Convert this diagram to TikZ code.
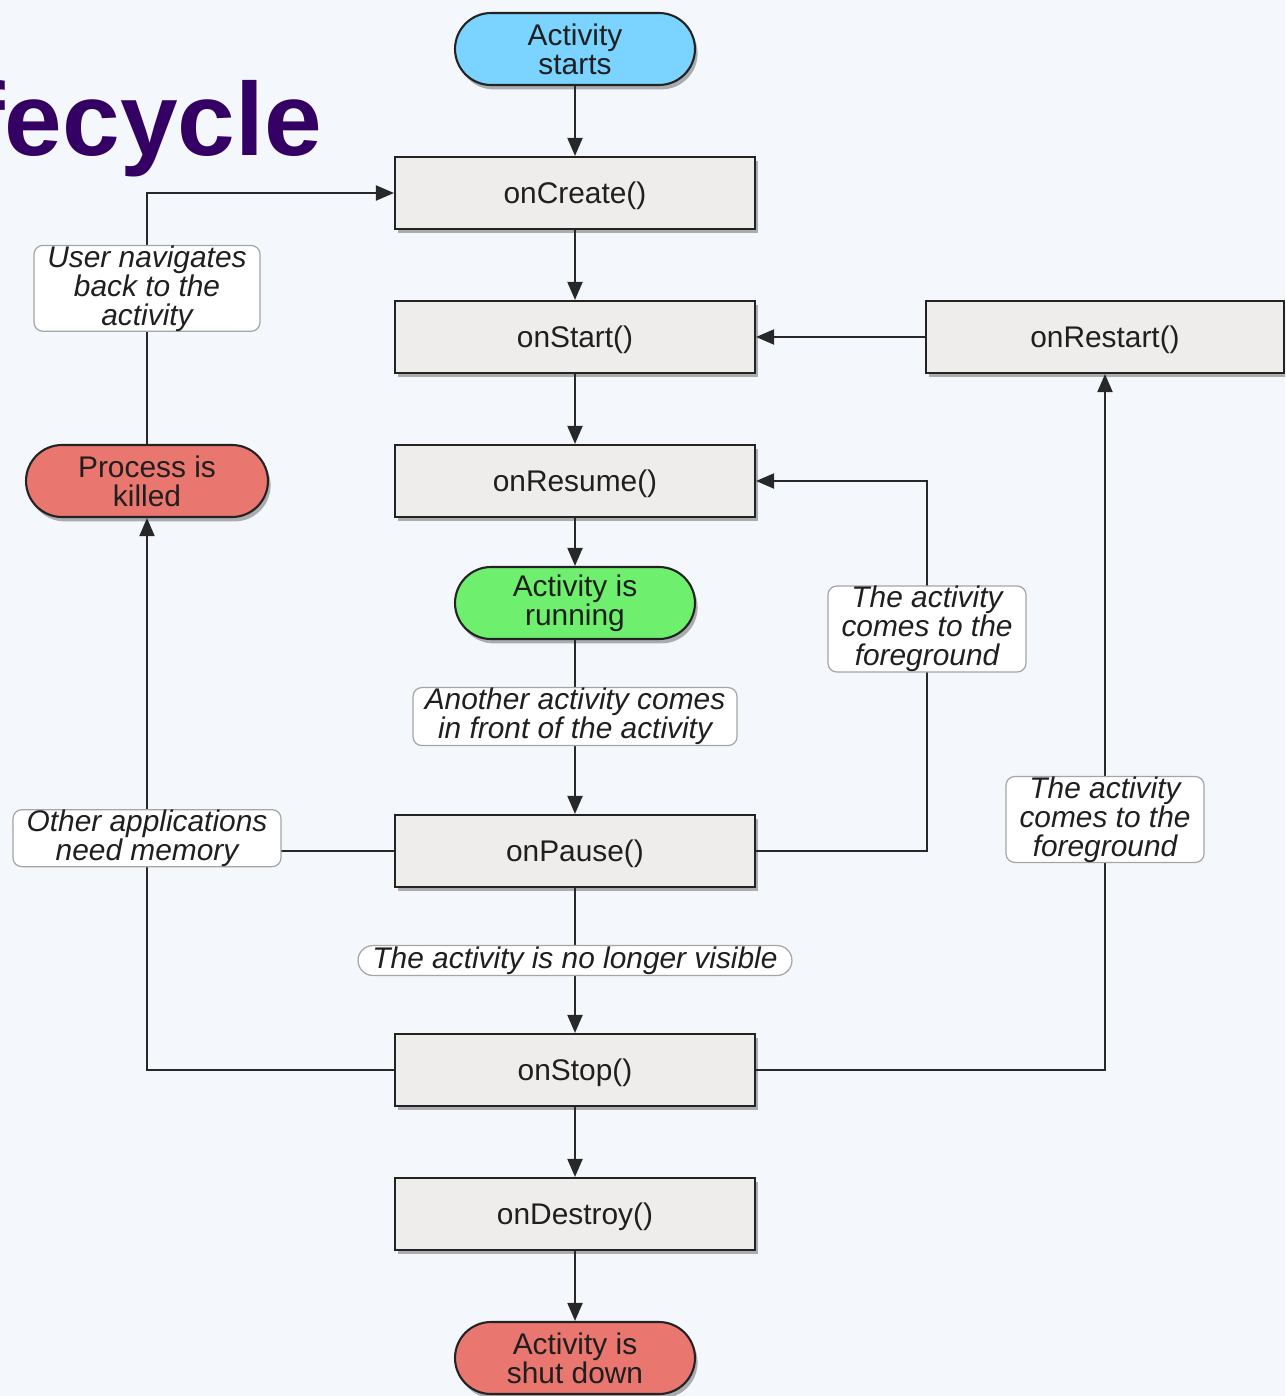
\documentclass[tikz,border=0pt]{standalone}
\usepackage{fontspec}
\setmainfont{Liberation Sans}
\usetikzlibrary{arrows.meta,shapes.misc,shadows}

\definecolor{bgcol}{RGB}{244,247,252}
\definecolor{titlepurple}{RGB}{52,0,100}
\definecolor{boxfill}{RGB}{238,237,235}
\definecolor{boxline}{RGB}{35,35,35}
\definecolor{linecol}{RGB}{40,40,40}
\definecolor{notegray}{RGB}{165,165,165}
\definecolor{startblue}{RGB}{122,212,255}
\definecolor{rungreen}{RGB}{110,240,110}
\definecolor{killred}{RGB}{234,118,112}

\begin{document}
\begin{tikzpicture}[%
    x = 0.02cm, y = -0.02cm,
    every node/.style = {inner sep=0pt, text=black!88, font=\fontsize{17}{16.5}\selectfont},
    boxshadow/.style = {drop shadow={shadow xshift=1.5pt, shadow yshift=-2.5pt, opacity=.3, fill=black}},
    callback/.style = {rectangle, draw=boxline, line width=1.2pt, fill=boxfill, text height=12.2pt, text depth=0pt,
                       minimum width=7.2cm, minimum height=1.44cm, boxshadow},
    state/.style = {rounded rectangle, draw=boxline, line width=1.2pt, align=center,
                    minimum width=4.8cm, minimum height=1.44cm, boxshadow},
    note/.style = {rectangle, rounded corners=5pt, draw=notegray, line width=0.7pt, fill=white,
                   align=center, font=\fontsize{17}{16.5}\selectfont\itshape},
    pillnote/.style = {rounded rectangle, draw=notegray, line width=0.7pt, fill=white,
                       align=center, font=\fontsize{17}{16.5}\selectfont\itshape},
    flow/.style = {draw=linecol, line width=1.1pt, -{Triangle[length=3.6mm, width=3mm]}},
    link/.style = {draw=linecol, line width=1.1pt}%
  ]
    \useasboundingbox (0,0) rectangle (1285,1396);
    \clip (0,0) rectangle (1285,1396);
    \fill[bgcol] (0,0) rectangle (1285,1396);

    \node[anchor=base west, text=titlepurple, font=\fontsize{59}{60}\selectfont\bfseries] (title) at (-30,155) {fecycle};

    % middle column
    \node[state, fill=startblue] (starts) at (575,49) {Activity\\starts};
    \node[callback] (create) at (575,193) {onCreate()};
    \node[callback] (start) at (575,337) {onStart()};
    \node[callback] (resume) at (575,481) {onResume()};
    \node[state, fill=rungreen] (running) at (575,603) {Activity is\\running};
    \node[callback] (pause) at (575,851) {onPause()};
    \node[callback] (stop) at (575,1070) {onStop()};
    \node[callback] (destroy) at (575,1214) {onDestroy()};
    \node[state, fill=killred] (shutdown) at (575,1358) {Activity is\\shut down};

    % sides
    \node[callback, minimum width=7.16cm] (restart) at (1105,337) {onRestart()};
    \node[state, fill=killred, minimum width=4.84cm] (killed) at (147,481) {Process is\\killed};
    \coordinate (fgturn) at (927,481);

    \draw[flow] (starts) -- (create);
    \draw[flow] (create) -- (start);
    \draw[flow] (start) -- (resume);
    \draw[flow] (resume) -- (running);
    \draw[flow] (running) -- node[note, pos=0.44, minimum width=6.48cm, minimum height=1.16cm] (frontnote)
      {Another activity comes\\in front of the activity} (pause);
    \draw[flow] (pause) -- node[pillnote, minimum width=8.68cm, minimum height=0.6cm] (hiddennote)
      {The activity is no longer visible} (stop);
    \draw[flow] (stop) -- (destroy);
    \draw[flow] (destroy) -- (shutdown);
    \draw[flow] (restart) -- (start);

    \draw[flow] (pause.east) -| node[note, pos=0.8, minimum width=3.96cm, minimum height=1.72cm] (fgnotea)
      {The activity\\comes to the\\foreground} (fgturn) -- (resume.east);
    \draw[flow] (stop.east) -| node[note, pos=0.68, minimum width=3.96cm, minimum height=1.72cm] (fgnoteb)
      {The activity\\comes to the\\foreground} (restart.south);

    \draw[link] (pause.west) -- (pause.west -| killed.south);
    \draw[flow] (stop.west) -| node[note, pos=0.71, minimum width=5.36cm, minimum height=1.14cm] (memnote)
      {Other applications\\need memory} (killed.south);
    \draw[flow] (killed.north) |- node[note, pos=0.31, minimum width=4.52cm, minimum height=1.7cm] (backnote)
      {User navigates\\back to the\\activity} (create.west);
\end{tikzpicture}
\end{document}
